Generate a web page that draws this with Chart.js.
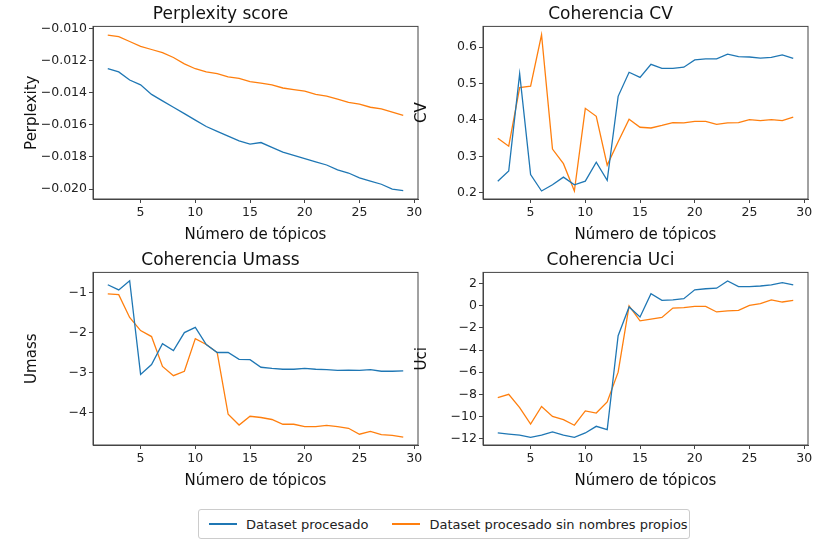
<!DOCTYPE html>
<html>
<head>
<meta charset="utf-8">
<script src="https://cdn.jsdelivr.net/npm/chart.js@4.4.1/dist/chart.umd.min.js"></script>
<style>
  body { margin: 0; background: #fff; font-family: "DejaVu Sans", sans-serif; }
  .panel { position: absolute; width: 405px; height: 245px; }
  #legend { position: absolute; left: 198px; top: 509px; width: 490px; height: 28px; border: 1px solid #ccc; border-radius: 3px;
            display: flex; align-items: center; font-size: 13px; color: #222; white-space: nowrap; }
  .item { display: flex; align-items: center; margin-left: 10px; margin-right: 14px; flex-shrink: 0; }
  .swatch { width: 28px; height: 2px; margin-right: 9px; flex-shrink: 0; }
</style>
</head>
<body>
<div class="panel" style="left:23px;top:-1px"><canvas id="c1"></canvas></div>
<div class="panel" style="left:413px;top:-1px"><canvas id="c2"></canvas></div>
<div class="panel" style="left:23px;top:245px"><canvas id="c3"></canvas></div>
<div class="panel" style="left:413px;top:245px"><canvas id="c4"></canvas></div>
<div id="legend">
  <div class="item"><div class="swatch" style="background:#1f77b4"></div>Dataset procesado</div>
  <div class="item"><div class="swatch" style="background:#ff7f0e"></div>Dataset procesado sin nombres propios</div>
</div>
<script>
const topicos = [2,3,4,5,6,7,8,9,10,11,12,13,14,15,16,17,18,19,20,21,22,23,24,25,26,27,28,29];

const perpBlue = [-0.0125,-0.0127,-0.0132,-0.0135,-0.0141,-0.0145,-0.0149,-0.0153,-0.0157,-0.0161,-0.0164,-0.0167,-0.0170,-0.0172,-0.0171,-0.0174,-0.0177,-0.0179,-0.0181,-0.0183,-0.0185,-0.0188,-0.0190,-0.0193,-0.0195,-0.0197,-0.0200,-0.0201];
const perpOrange = [-0.0104,-0.0105,-0.0108,-0.0111,-0.0113,-0.0115,-0.0118,-0.0122,-0.0125,-0.0127,-0.0128,-0.0130,-0.0131,-0.0133,-0.0134,-0.0135,-0.0137,-0.0138,-0.0139,-0.0141,-0.0142,-0.0144,-0.0146,-0.0147,-0.0149,-0.0150,-0.0152,-0.0154];

const cvBlue = [0.232,0.26,0.527,0.25,0.205,0.222,0.243,0.222,0.232,0.284,0.234,0.465,0.531,0.517,0.553,0.542,0.542,0.545,0.565,0.568,0.568,0.581,0.574,0.573,0.570,0.572,0.579,0.569];
const cvOrange = [0.35,0.328,0.489,0.493,0.634,0.32,0.28,0.205,0.432,0.41,0.276,0.34,0.402,0.380,0.378,0.385,0.393,0.392,0.396,0.396,0.388,0.392,0.393,0.401,0.398,0.401,0.398,0.408];

const umassBlue = [-0.8,-0.93,-0.7,-3.05,-2.8,-2.28,-2.45,-2.0,-1.87,-2.3,-2.5,-2.5,-2.67,-2.68,-2.87,-2.9,-2.92,-2.92,-2.9,-2.92,-2.93,-2.95,-2.94,-2.95,-2.93,-2.97,-2.97,-2.96];
const umassOrange = [-1.03,-1.05,-1.62,-1.95,-2.1,-2.85,-3.08,-2.97,-2.15,-2.3,-2.5,-4.05,-4.32,-4.1,-4.13,-4.18,-4.3,-4.3,-4.36,-4.36,-4.33,-4.36,-4.4,-4.55,-4.48,-4.56,-4.58,-4.62];

const uciBlue = [-11.5,-11.6,-11.7,-11.9,-11.7,-11.4,-11.7,-11.9,-11.5,-10.9,-11.2,-2.7,-0.1,-1.0,1.1,0.5,0.55,0.65,1.45,1.55,1.6,2.25,1.75,1.75,1.8,1.9,2.1,1.9];
const uciOrange = [-8.3,-8.0,-9.2,-10.7,-9.1,-10.0,-10.3,-10.8,-9.5,-9.7,-8.7,-6.0,0.0,-1.35,-1.2,-1.05,-0.2,-0.15,-0.05,-0.05,-0.55,-0.45,-0.4,0.05,0.2,0.55,0.35,0.5];

const xTicks = [5,10,15,20,25,30];

// frame around the plot area, like matplotlib spines
const frame = {
  id: 'frame',
  afterDraw(chart) {
    const a = chart.chartArea, c = chart.ctx;
    c.save();
    c.strokeStyle = '#444';
    c.lineWidth = 1;
    c.strokeRect(a.left, a.top, a.right - a.left, a.bottom - a.top);
    c.restore();
  }
};

function pairs(arr) { return arr.map((v, i) => ({x: topicos[i], y: v})); }

function makeChart(id, title, yTitle, blue, orange, yMin, yMax, yStep, fmt) {
  new Chart(document.getElementById(id), {
    type: 'line',
    data: {
      datasets: [
        {label: 'Dataset procesado', data: pairs(blue), borderColor: '#1f77b4', borderWidth: 1.3, pointRadius: 0, tension: 0},
        {label: 'Dataset procesado sin nombres propios', data: pairs(orange), borderColor: '#ff7f0e', borderWidth: 1.3, pointRadius: 0, tension: 0}
      ]
    },
    options: {
      animation: false,
      responsive: true,
      maintainAspectRatio: false,
      layout: {padding: {right: 10}},
      plugins: {
        legend: {display: false},
        tooltip: {enabled: false},
        title: {display: true, text: title, color: '#111', font: {size: 17, family: 'DejaVu Sans', weight: 'normal'}, padding: {top: 5, bottom: 2}}
      },
      scales: {
        x: {
          type: 'linear', min: 0.65, max: 30.35,
          afterBuildTicks: ax => { ax.ticks = xTicks.map(v => ({value: v})); },
          afterFit: ax => { ax.height = 45; },
          grid: {drawOnChartArea: false, tickLength: 4, color: '#444'},
          border: {color: '#444'},
          ticks: {color: '#222', font: {size: 12.5, family: 'DejaVu Sans'}, padding: 2, maxRotation: 0},
          title: {display: true, text: 'Número de tópicos', color: '#111', font: {size: 15, family: 'DejaVu Sans'}, padding: 0}
        },
        y: {
          min: yMin, max: yMax,
          afterBuildTicks: ax => {
            const t = [];
            for (let v = Math.ceil(yMin / yStep) * yStep; v <= yMax + 1e-12; v += yStep) t.push({value: +v.toFixed(6)});
            ax.ticks = t;
          },
          afterFit: ax => { ax.width = 70; },
          grid: {drawOnChartArea: false, tickLength: 4, color: '#444'},
          border: {color: '#444'},
          ticks: {color: '#222', font: {size: 12.5, family: 'DejaVu Sans'}, padding: 2, callback: fmt},
          title: {display: true, text: yTitle, color: '#111', font: {size: 15, family: 'DejaVu Sans'}, padding: 0}
        }
      }
    },
    plugins: [frame]
  });
}

const minus = s => s.replace('-', '\u2212');
makeChart('c1', 'Perplexity score', 'Perplexity', perpBlue, perpOrange, -0.02062, -0.00986, 0.002, v => minus(v.toFixed(3)));
makeChart('c2', 'Coherencia CV', 'CV', cvBlue, cvOrange, 0.183, 0.657, 0.1, v => v.toFixed(1));
makeChart('c3', 'Coherencia Umass', 'Umass', umassBlue, umassOrange, -4.82, -0.49, 1, v => minus(String(Math.round(v))));
makeChart('c4', 'Coherencia Uci', 'Uci', uciBlue, uciOrange, -12.59, 3.03, 2, v => minus(String(Math.round(v))));
</script>
</body>
</html>
